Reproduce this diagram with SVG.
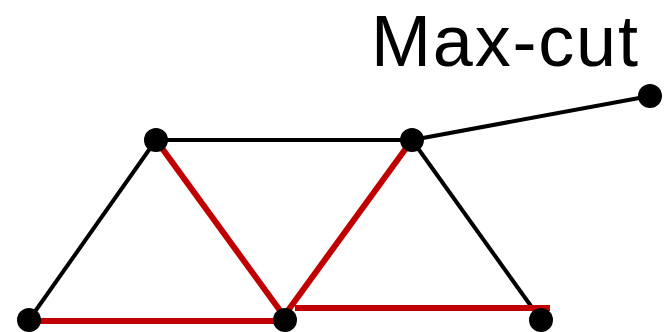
<svg xmlns="http://www.w3.org/2000/svg" width="670" height="332" viewBox="0 0 670 332">
<style>
.blk{stroke:#000;stroke-width:4;fill:none}
.red{stroke:#C00000;stroke-width:6;fill:none}
.node{fill:#000}
.lbl{font-family:"Liberation Sans",Arial,sans-serif;font-size:72px;fill:#000}
</style>
<rect width="670" height="332" fill="#fff"/>
<g id="connectors">
<line class="blk" x1="156" y1="140" x2="412" y2="140"/>
<line class="blk" x1="412" y1="140" x2="650" y2="96"/>
<line class="blk" x1="156" y1="140" x2="29" y2="320"/>
<line class="blk" x1="412" y1="140" x2="541" y2="320"/>
<line class="red" x1="156" y1="140" x2="284" y2="316"/>
<line class="red" x1="412" y1="140" x2="284" y2="316"/>
<line class="red" x1="39" y1="321" x2="277" y2="321"/>
<line class="red" x1="295" y1="308" x2="550" y2="308"/>
</g>
<g id="n1"><circle class="node" cx="156" cy="140" r="12"/></g>
<g id="n2"><circle class="node" cx="412" cy="140" r="12"/></g>
<g id="n3"><circle class="node" cx="650" cy="96" r="12"/></g>
<g id="n4"><circle class="node" cx="29" cy="320" r="12"/></g>
<g id="n5"><circle class="node" cx="285" cy="320" r="12"/></g>
<g id="n6"><circle class="node" cx="541" cy="320" r="12"/></g>
<text class="lbl" x="371" y="66" textLength="267" lengthAdjust="spacing">Max-cut</text>
</svg>
